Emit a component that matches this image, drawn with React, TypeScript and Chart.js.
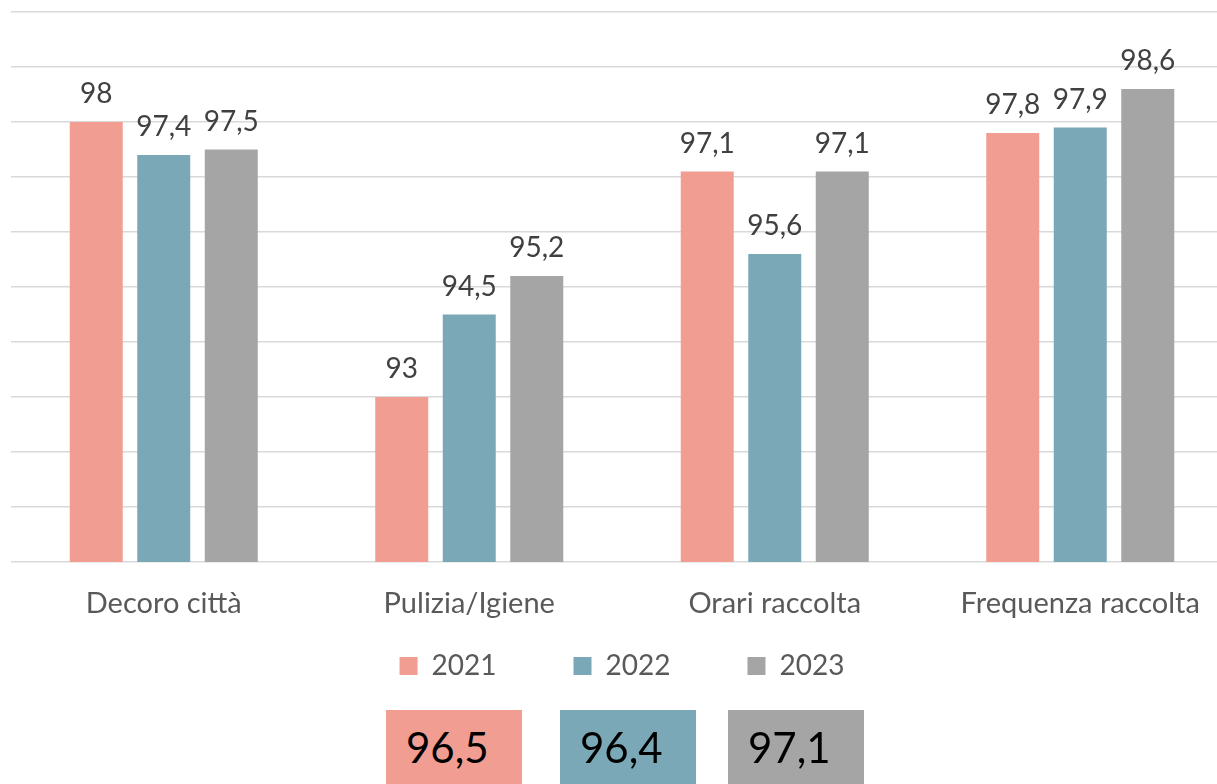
import React, { useEffect, useRef } from "react";
import { Chart, registerables } from "chart.js";

Chart.register(...registerables);

const categories = ["Decoro città", "Pulizia/Igiene", "Orari raccolta", "Frequenza raccolta"];
const seriesLabels = ["2021", "2022", "2023"];
const values2021 = [98, 93, 97.1, 97.8];
const values2022 = [97.4, 94.5, 95.6, 97.9];
const values2023 = [97.5, 95.2, 97.1, 98.6];
const summaryValues = [96.5, 96.4, 97.1];
const seriesColors = ["#F29D92", "#7AA8B7", "#A5A5A5"];

const BOX_LEFT = [386, 560, 728];
const FONT = "Lato, 'Noto Sans', 'DejaVu Sans', sans-serif";
const fmt = (v: number) => String(v).replace(".", ",");

const dataLabelPlugin = {
  id: "dataLabels",
  afterDatasetsDraw(chart: any) {
    const ctx = chart.ctx;
    ctx.save();
    ctx.font = `28px ${FONT}`;
    ctx.fillStyle = "#404040";
    ctx.textAlign = "center";
    ctx.textBaseline = "alphabetic";
    chart.data.datasets.forEach((ds: any, i: number) => {
      const meta = chart.getDatasetMeta(i);
      meta.data.forEach((bar: any, j: number) => {
        ctx.fillText(fmt(ds.data[j]), bar.x, bar.y - 19);
      });
    });
    ctx.restore();
  },
};

// pull the legend up closer to the axis labels (its label padding also sets horizontal spacing)
const legendShiftPlugin = {
  id: "legendShift",
  afterLayout(chart: any) {
    const lg = chart.legend;
    if (!lg) return;
    const d = lg.top - (chart.chartArea.bottom + 13);
    lg.top -= d;
    lg.bottom -= d;
  },
};

export default function App() {
  const canvasRef = useRef<HTMLCanvasElement>(null);

  useEffect(() => {
    const seriesValues = [values2021, values2022, values2023];
    const chart = new Chart(canvasRef.current!, {
      type: "bar",
      data: {
        labels: categories,
        datasets: seriesLabels.map((label, i) => ({
          label,
          data: seriesValues[i],
          backgroundColor: seriesColors[i],
          borderWidth: 0,
          categoryPercentage: 0.663,
          barPercentage: 0.785,
        })),
      },
      options: {
        responsive: false,
        animation: false,
        devicePixelRatio: 1,
        layout: { padding: { top: 12, left: 11, right: 7, bottom: 0 } },
        plugins: {
          tooltip: { enabled: false },
          legend: {
            position: "bottom",
            labels: {
              boxWidth: 18,
              boxHeight: 18,
              padding: 77,
              color: "#595959",
              font: { family: FONT, size: 28 },
            },
          },
        },
        scales: {
          x: {
            grid: { display: false, drawTicks: false },
            border: { display: false },
            ticks: {
              color: "#595959",
              font: { family: FONT, size: 29 },
              padding: 24,
              maxRotation: 0,
              autoSkip: false,
            },
            afterFit: (scale: any) => {
              scale.height = 60;
            },
          },
          y: {
            min: 90,
            max: 100,
            ticks: { display: false, stepSize: 1 },
            grid: { color: "#D9D9D9", lineWidth: 1.5, drawTicks: false },
            border: { display: false },
          },
        },
      },
      plugins: [dataLabelPlugin, legendShiftPlugin],
    });
    return () => chart.destroy();
  }, []);

  return (
    <div
      style={{
        position: "fixed",
        left: 0,
        top: 0,
        width: 1217,
        height: 784,
        overflow: "hidden",
        background: "#fff",
      }}
    >
      <canvas
        ref={canvasRef}
        width={1240}
        height={737}
        style={{ position: "absolute", left: 0, top: 0, width: 1240, height: 737 }}
      />
      {summaryValues.map((v, i) => (
        <div
          key={i}
          style={{
            position: "absolute",
            left: BOX_LEFT[i],
            top: 710,
            width: 136,
            height: 80,
            background: seriesColors[i],
            boxSizing: "border-box",
            paddingLeft: 20,
            paddingTop: 16,
            fontFamily: FONT,
            fontSize: 42,
            lineHeight: 1,
            color: "#000",
          }}
        >
          {fmt(v)}
        </div>
      ))}
    </div>
  );
}
